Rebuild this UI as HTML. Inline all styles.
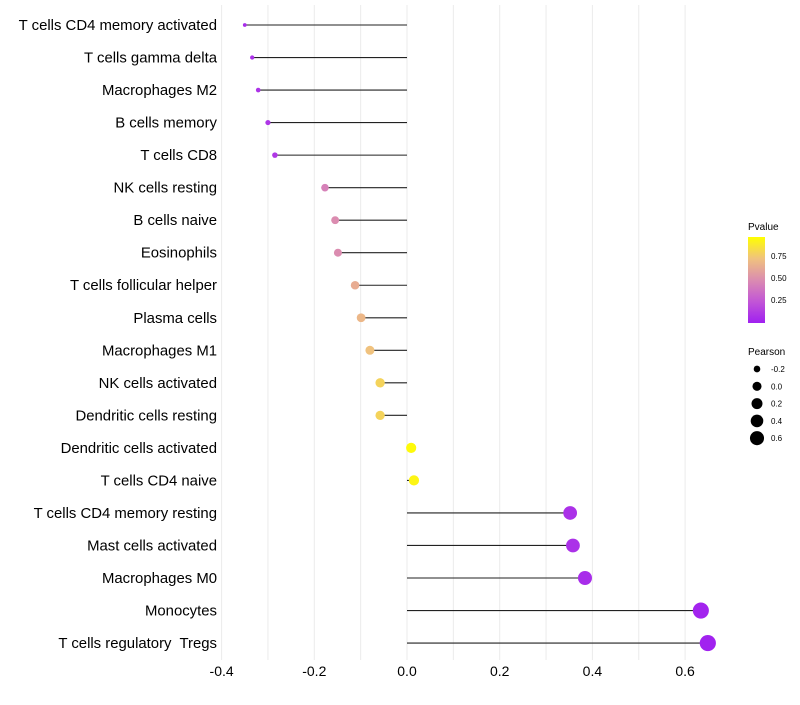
<!DOCTYPE html>
<html><head><meta charset="utf-8"><style>
body{margin:0;background:#fff;font-family:"Liberation Sans",sans-serif}
text{white-space:pre}
</style></head><body>
<svg id="chart" width="800" height="700" xmlns="http://www.w3.org/2000/svg" font-family="Liberation Sans, sans-serif">
<defs><linearGradient id="pg" x1="0" y1="1" x2="0" y2="0">
<stop offset="0" stop-color="#A020F0"/><stop offset="0.25" stop-color="#C256D6"/><stop offset="0.5" stop-color="#DB8CB0"/><stop offset="0.75" stop-color="#F0C27E"/><stop offset="1" stop-color="#FFFF00"/></linearGradient></defs>
<g id="grid"></g><g id="marks"></g><g id="axes"></g>
<g>
<text x="748" y="230" font-size="10">Pvalue</text>
<rect x="748" y="237" width="17" height="86" fill="url(#pg)"/>
<text x="771" y="259" font-size="8">0.75</text>
<text x="771" y="281" font-size="8">0.50</text>
<text x="771" y="303" font-size="8">0.25</text>
<text x="748" y="355" font-size="10">Pearson</text>
<g id="sizeleg"></g>
</g>
</svg>
<script>
const cats=["T cells CD4 memory activated","T cells gamma delta","Macrophages M2","B cells memory","T cells CD8","NK cells resting","B cells naive","Eosinophils","T cells follicular helper","Plasma cells","Macrophages M1","NK cells activated","Dendritic cells resting","Dendritic cells activated","T cells CD4 naive","T cells CD4 memory resting","Mast cells activated","Macrophages M0","Monocytes","T cells regulatory  Tregs"];
const pearson=[-0.35,-0.334,-0.321,-0.30,-0.285,-0.177,-0.155,-0.149,-0.112,-0.099,-0.08,-0.058,-0.058,0.009,0.015,0.352,0.358,0.384,0.634,0.649];
const pvalue=[0.06,0.08,0.09,0.1,0.11,0.45,0.5,0.5,0.65,0.7,0.75,0.82,0.82,0.98,0.96,0.08,0.08,0.06,0.02,0.01];
const xticks=[-0.4,-0.2,0.0,0.2,0.4,0.6];
const sizeLeg=[-0.2,0.0,0.2,0.4,0.6];
const NS="http://www.w3.org/2000/svg";
const x=v=>407+v*463.5;
const y=i=>25+i*32.53;
const r=v=>Math.sqrt(3+(v+0.36)*62);
const stops=[[0,[160,32,240]],[0.25,[194,86,214]],[0.5,[219,140,176]],[0.75,[240,194,126]],[1,[255,255,0]]];
function col(p){for(let k=1;k<stops.length;k++){if(p<=stops[k][0]){const a=stops[k-1],b=stops[k];const t=(p-a[0])/(b[0]-a[0]);return "rgb("+a[1].map((c,j)=>Math.round(c+(b[1][j]-c)*t)).join(",")+")";}}return "rgb(255,255,0)";}
function mk(t,at,parent){const e=document.createElementNS(NS,t);for(const k in at)e.setAttribute(k,at[k]);document.getElementById(parent).appendChild(e);return e;}
for(let k=0;k<=10;k++){const v=-0.4+k*0.1;const g=mk("line",{x1:x(v),x2:x(v),y1:5,y2:660,stroke:"#ebebeb","stroke-width":1},"grid");

}
xticks.forEach(t=>{const e=mk("text",{x:x(t),y:676,"font-size":14,"text-anchor":"middle",fill:"#000"},"axes");e.textContent=t.toFixed(1);

});
cats.forEach((c,i)=>{const e=mk("text",{x:217,y:y(i)+5,"font-size":14.9,"text-anchor":"end",fill:"#000"},"axes");e.textContent=c;


const l=mk("line",{x1:x(0),x2:x(pearson[i]),y1:y(i),y2:y(i),stroke:"#222","stroke-width":1.1},"marks");


const p=mk("circle",{cx:x(pearson[i]),cy:y(i),r:r(pearson[i]),fill:col(pvalue[i])},"marks");

});
sizeLeg.forEach((v,k)=>{const cy=369+k*17.3;const c=mk("circle",{cx:757,cy:cy,r:Math.sqrt(11+(v+0.2)*48),fill:"#000"},"sizeleg");


const t=mk("text",{x:771,y:cy+3,"font-size":8},"sizeleg");t.textContent=v.toFixed(1);

});
</script>
</body></html>
